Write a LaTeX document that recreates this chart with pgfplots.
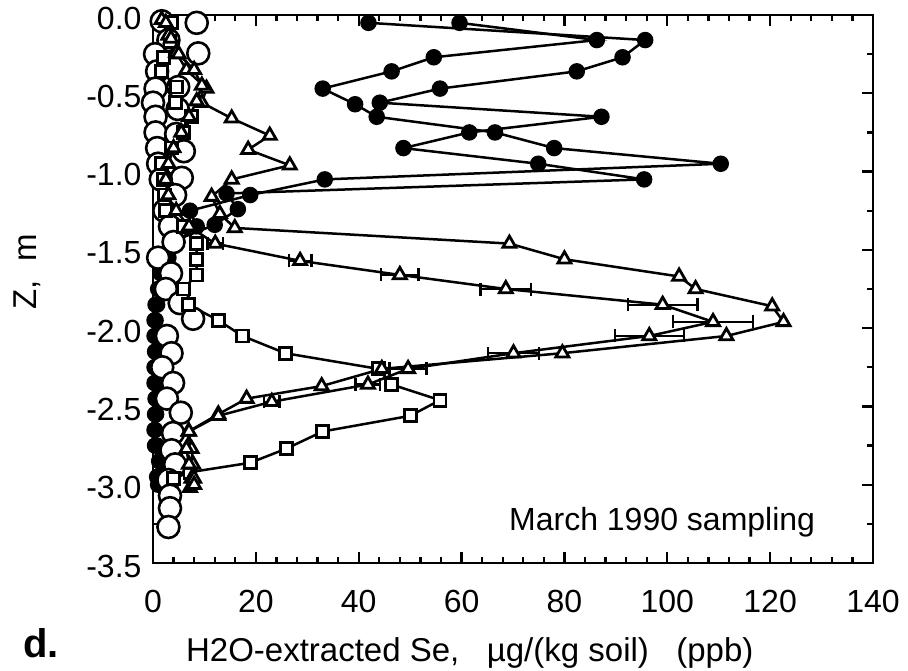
\documentclass[border=0pt]{standalone}
\usepackage{fontspec}
\setmainfont{Liberation Sans}
\usepackage{pgfplots}
\pgfplotsset{compat=1.18}
\begin{document}
\begin{tikzpicture}
\path[use as bounding box] (-153pt,-107pt) rectangle (755pt,563pt);
\begin{axis}[
 at={(0pt,0pt)}, anchor=south west,
 scale only axis, width=720pt, height=548pt,
 xmin=0, xmax=140, ymin=-3.5, ymax=0,
 clip=false,
 axis line style={line width=2.6pt},
 xtick={0,20,...,140}, xticklabels={0,20,40,60,80,100,120,140},
 minor x tick num=4,
 ytick={-3.5,-3,...,0}, yticklabels={-3.5,-3.0,-2.5,-2.0,-1.5,-1.0,-0.5,0.0},
 minor y tick num=1,
 tick align=inside,
 major tick length=11pt, minor tick length=6pt,
 tick style={line width=2.2pt, black},
 ticklabel style={font=\fontsize{32}{38}\selectfont},
 xticklabel style={yshift=-24pt},
 yticklabel style={xshift=-8pt, yshift=-3pt},
 xlabel={H2O-extracted Se,\ \ \ µg/(kg soil)\ \ \ (ppb)},
 xlabel style={at={(axis description cs:0.44,-0.165)}, anchor=center, font=\fontsize{33}{39}\selectfont},
 ylabel={Z,\ \ m},
 ylabel style={at={(axis description cs:-0.174,0.531)}, anchor=center, font=\fontsize{33}{39}\selectfont},
]
% filled circles, profile A
\addplot[black, line width=2.5pt, mark=*, mark size=7pt] coordinates {
(41.9,-0.05) (95.7,-0.16) (91.3,-0.27) (82.4,-0.36) (55.8,-0.47) (44.1,-0.56)
(87.2,-0.65) (61.5,-0.75) (48.7,-0.85) (74.9,-0.95) (95.5,-1.05) (14.3,-1.14)
(16.5,-1.24) (12.0,-1.34) (3.5,-1.45) (2.0,-1.55) (1.5,-1.65) (1.0,-1.75)
(0.8,-1.85) (0.5,-1.95) (0.5,-2.05) (0.4,-2.15) (0.3,-2.25) (0.5,-2.35)
(0.6,-2.45) (0.4,-2.55) (0.3,-2.65) (0.4,-2.75) (1.4,-2.85) (1.2,-2.95) (1.0,-3.00)
};
% filled circles, profile B
\addplot[black, line width=2.5pt, mark=*, mark size=7pt] coordinates {
(59.6,-0.05) (86.3,-0.16) (54.6,-0.27) (46.4,-0.36) (33.0,-0.47) (39.3,-0.57)
(43.5,-0.65) (66.5,-0.75) (78.0,-0.85) (110.4,-0.95) (33.4,-1.05) (18.9,-1.15)
(7.2,-1.25) (8.5,-1.35) (4.5,-1.45) (3.0,-1.55) (2.5,-1.65) (1.5,-1.75)
(0.5,-1.85) (0.3,-1.95) (0.3,-2.05) (0.6,-2.15) (0.4,-2.25) (0.3,-2.35)
(0.5,-2.45) (0.6,-2.55) (0.4,-2.65) (0.8,-2.75) (1.2,-2.85) (0.8,-2.95)
};
% large open circles
\addplot[only marks, black, mark=*, mark size=11pt, mark options={fill=white, line width=2.6pt}] coordinates {
(1.7,-0.04) (8.5,-0.05) (3.0,-0.16) (0.4,-0.25) (8.8,-0.245) (0.8,-0.36)
(4.9,-0.46) (0.5,-0.47) (0.0,-0.56) (4.8,-0.60) (0.5,-0.65) (0.5,-0.75)
(4.5,-0.76) (0.8,-0.85) (6.0,-0.87) (1.0,-0.95) (5.6,-1.04) (1.5,-1.05)
(4.3,-1.15) (2.2,-1.25) (3.3,-1.35) (4.0,-1.45) (1.0,-1.55) (3.5,-1.65)
(2.5,-1.75) (5.2,-1.84) (7.8,-1.94) (2.7,-2.05) (3.6,-2.16) (1.8,-2.25)
(3.9,-2.35) (2.7,-2.45) (5.4,-2.54) (3.9,-2.67) (3.6,-2.78) (4.3,-2.87)
(3.0,-2.97) (3.3,-3.07) (3.3,-3.15) (3.0,-3.27)
};
% open squares
\addplot[black, line width=2.5pt, mark=square*, mark size=6pt, mark options={fill=white, line width=2.8pt}] coordinates {
(3.6,-0.05) (3.3,-0.17) (2.1,-0.27) (1.7,-0.36) (4.5,-0.46) (4.3,-0.56)
(7.5,-0.65) (5.9,-0.75) (3.6,-0.85) (1.7,-0.95) (2.0,-1.05) (2.2,-1.15)
(2.4,-1.25) (5.9,-1.35) (8.5,-1.46) (8.5,-1.56) (8.5,-1.66) (5.9,-1.75)
(6.9,-1.85) (12.7,-1.95) (17.4,-2.05) (25.7,-2.16) (43.8,-2.26) (46.4,-2.36)
(55.8,-2.46) (50.0,-2.56) (33.0,-2.66) (25.9,-2.77) (18.9,-2.86) (7.2,-2.92) (4.0,-2.96)
};
% open triangles, profile 1
\addplot[black, line width=2.5pt, mark=triangle*, mark size=7.5pt, mark options={fill=white, line width=2.8pt}] coordinates {
(1.7,-0.03) (3.0,-0.13) (4.5,-0.24) (6.5,-0.35) (10.4,-0.47) (9.5,-0.56)
(15.3,-0.66) (22.7,-0.77) (18.5,-0.86) (26.6,-0.96) (15.3,-1.05) (11.4,-1.16)
(13.0,-1.27) (15.9,-1.36) (69.3,-1.46) (80.0,-1.56) (102.3,-1.67) (105.5,-1.75)
(120.4,-1.86) (122.6,-1.96) (111.5,-2.05) (79.6,-2.16) (44.5,-2.26) (32.8,-2.37)
(18.2,-2.45) (12.7,-2.55) (6.9,-2.66) (7.5,-2.77) (7.8,-2.87) (7.5,-2.96) (7.2,-3.02)
};
% error bars of profile 2
\addplot[forget plot, draw=none, mark=none,
 error bars/.cd, x dir=both, x explicit,
 error bar style={draw=black, line width=2.3pt},
 error mark options={draw=black, line width=2.3pt, mark size=6.5pt, rotate=90}]
 table[x=x, y=y, x error=e] {
x y e
12.1 -1.46 1.5
28.6 -1.57 2.2
48.0 -1.66 3.6
68.6 -1.75 4.9
99.1 -1.85 6.8
108.9 -1.96 7.8
96.5 -2.05 6.7
70.1 -2.16 4.9
49.6 -2.26 3.6
41.8 -2.36 2.4
23.1 -2.47 1.5
};
% open triangles, profile 2
\addplot[black, line width=2.5pt, mark=triangle*, mark size=7.5pt, mark options={fill=white, line width=2.8pt}] coordinates {
(2.5,-0.05) (3.5,-0.15) (5.0,-0.25) (8.0,-0.35) (9.5,-0.45) (8.5,-0.55)
(7.0,-0.65) (5.5,-0.75) (4.0,-0.85) (3.0,-0.95) (2.5,-1.05) (3.0,-1.15)
(4.5,-1.25) (7.0,-1.35) (12.1,-1.46) (28.6,-1.57) (48.0,-1.66) (68.6,-1.75)
(99.1,-1.85) (108.9,-1.96) (96.5,-2.05) (70.1,-2.16) (49.6,-2.26) (41.8,-2.36)
(23.1,-2.47) (12.7,-2.56) (7.0,-2.66) (6.5,-2.77) (7.0,-2.87) (8.0,-2.96) (8.0,-3.00)
};
\node[anchor=center, font=\fontsize{32}{38}\selectfont] at (axis cs:99,-3.24) {March 1990 sampling};
\end{axis}
\node[anchor=center, font=\fontsize{40}{46}\selectfont\bfseries] at (-112pt,-80pt) {d.};
\end{tikzpicture}
\end{document}
